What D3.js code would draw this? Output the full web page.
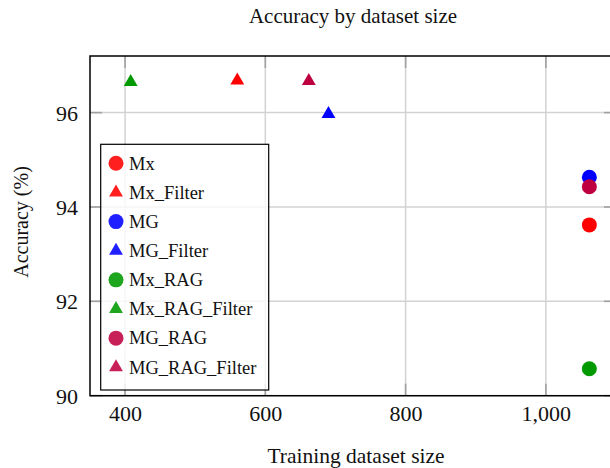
<!DOCTYPE html>
<html>
<head>
<meta charset="utf-8">
<script src="https://cdn.jsdelivr.net/npm/d3@7"></script>
<style>
  html, body { margin: 0; padding: 0; background: #fff; }
  svg { display: block; }
  text { font-family: "Liberation Serif", "Times New Roman", serif; fill: #111; }
</style>
</head>
<body>
<svg id="chart" width="610" height="468"></svg>
<script>
// ---- data ----
const seriesNames = ["Mx", "Mx_Filter", "MG", "MG_Filter", "Mx_RAG", "Mx_RAG_Filter", "MG_RAG", "MG_RAG_Filter"];
const datasetSize = [1062, 560, 1062, 690, 1062, 408, 1062, 662];
const accuracy    = [93.62, 96.68, 94.63, 95.97, 90.57, 96.65, 94.43, 96.67];
const markerShape = ["circle", "triangle", "circle", "triangle", "circle", "triangle", "circle", "triangle"];
const seriesColor = ["#ff0000", "#ff0000", "#0000ff", "#0000ff", "#009a00", "#009a00", "#bf0040", "#bf0040"];
const xTicks = [400, 600, 800, 1000];
const yTicks = [90, 92, 94, 96];
const titleText = "Accuracy by dataset size";
const xLabelText = "Training dataset size";
const yLabelText = "Accuracy (%)";

// ---- layout ----
const svg = d3.select("#chart");
const pLeft = 90, pTop = 56, pBottom = 395.7, pRight = 616;

const x = d3.scaleLinear().domain([350, 1100]).range([pLeft, pRight]);
const y = d3.scaleLinear().domain([90, 97.2]).range([pBottom, pTop]);

// grid
const grid = svg.append("g");
grid.selectAll("line.gx").data(xTicks).join("line").attr("class", "gx")
  .attr("x1", d => x(d)).attr("x2", d => x(d))
  .attr("y1", pTop).attr("y2", pBottom)
  .attr("stroke", "#d2d2d2").attr("stroke-width", 1.5);
grid.selectAll("line.gy").data(yTicks).join("line").attr("class", "gy")
  .attr("y1", d => y(d)).attr("y2", d => y(d))
  .attr("x1", pLeft).attr("x2", pRight)
  .attr("stroke", "#d2d2d2").attr("stroke-width", 1.5);

// inner tick marks on all four sides
const tl = 12;
const ticks = svg.append("g").attr("stroke", "#a0a0a0").attr("stroke-width", 1.6);
xTicks.forEach(t => {
  ticks.append("line").attr("x1", x(t)).attr("x2", x(t)).attr("y1", pBottom).attr("y2", pBottom - tl);
  ticks.append("line").attr("x1", x(t)).attr("x2", x(t)).attr("y1", pTop).attr("y2", pTop + tl);
});
yTicks.forEach(t => {
  ticks.append("line").attr("y1", y(t)).attr("y2", y(t)).attr("x1", pLeft).attr("x2", pLeft + tl);
  ticks.append("line").attr("y1", y(t)).attr("y2", y(t)).attr("x1", pRight).attr("x2", pRight - tl);
});

// axes via d3 (labels only)
const xAxis = d3.axisBottom(x).tickValues(xTicks).tickSize(0).tickPadding(0)
  .tickFormat(d3.format(",d"));
const gx = svg.append("g").attr("transform", `translate(0,${pBottom})`).call(xAxis);
gx.select(".domain").remove();
gx.selectAll("text").attr("dy", null).attr("y", 25.5)
  .style("font-family", "Liberation Serif").style("font-size", "22px").attr("fill", "#111");

const yAxis = d3.axisLeft(y).tickValues(yTicks).tickSize(0).tickPadding(0)
  .tickFormat(d3.format("d"));
const gy = svg.append("g").attr("transform", `translate(${pLeft},0)`).call(yAxis);
gy.select(".domain").remove();
gy.selectAll("text").attr("x", -12).attr("dy", "0.34em")
  .style("font-family", "Liberation Serif").style("font-size", "22px").attr("fill", "#111");

// frame
svg.append("rect").attr("x", pLeft).attr("y", pTop)
  .attr("width", pRight - pLeft).attr("height", pBottom - pTop)
  .attr("fill", "none").attr("stroke", "#000").attr("stroke-width", 1.5);

// points
const symbolFor = s => s === "circle"
  ? d3.symbol().type(d3.symbolCircle).size(Math.PI * 7.5 * 7.5)
  : d3.symbol().type(d3.symbolTriangle).size(16 * 3 * Math.sqrt(3));

const pts = seriesNames.map((n, i) => ({ name: n, x: datasetSize[i], y: accuracy[i], shape: markerShape[i], color: seriesColor[i] }));
svg.append("g").selectAll("path").data(pts).join("path")
  .attr("transform", d => `translate(${x(d.x)},${y(d.y)})`)
  .attr("d", d => symbolFor(d.shape)())
  .attr("fill", d => d.color);

// legend
const lg = svg.append("g");
lg.append("rect").attr("x", 100.7).attr("y", 144.3).attr("width", 168).attr("height", 245.7)
  .attr("fill", "#fff").attr("fill-opacity", 0.8).attr("stroke", "#000").attr("stroke-width", 1.2);
const items = lg.selectAll("g.item").data(pts).join("g").attr("class", "item")
  .attr("transform", (d, i) => `translate(116,${163.3 + i * 29.14})`);
items.append("path").attr("d", d => symbolFor(d.shape)()).attr("fill", d => d.color).attr("fill-opacity", 0.88);
items.append("text").attr("x", 13).attr("dy", "0.34em")
  .style("font-size", "18.5px").text(d => d.name);

// title and axis labels
svg.append("text").attr("x", 353).attr("y", 23).attr("text-anchor", "middle")
  .style("font-size", "21px").text(titleText);
svg.append("text").attr("x", 356).attr("y", 462.7).attr("text-anchor", "middle")
  .style("font-size", "21.5px").text(xLabelText);
svg.append("text").attr("transform", "translate(28,222) rotate(-90)").attr("text-anchor", "middle")
  .style("font-size", "20px").text(yLabelText);
</script>
</body>
</html>
